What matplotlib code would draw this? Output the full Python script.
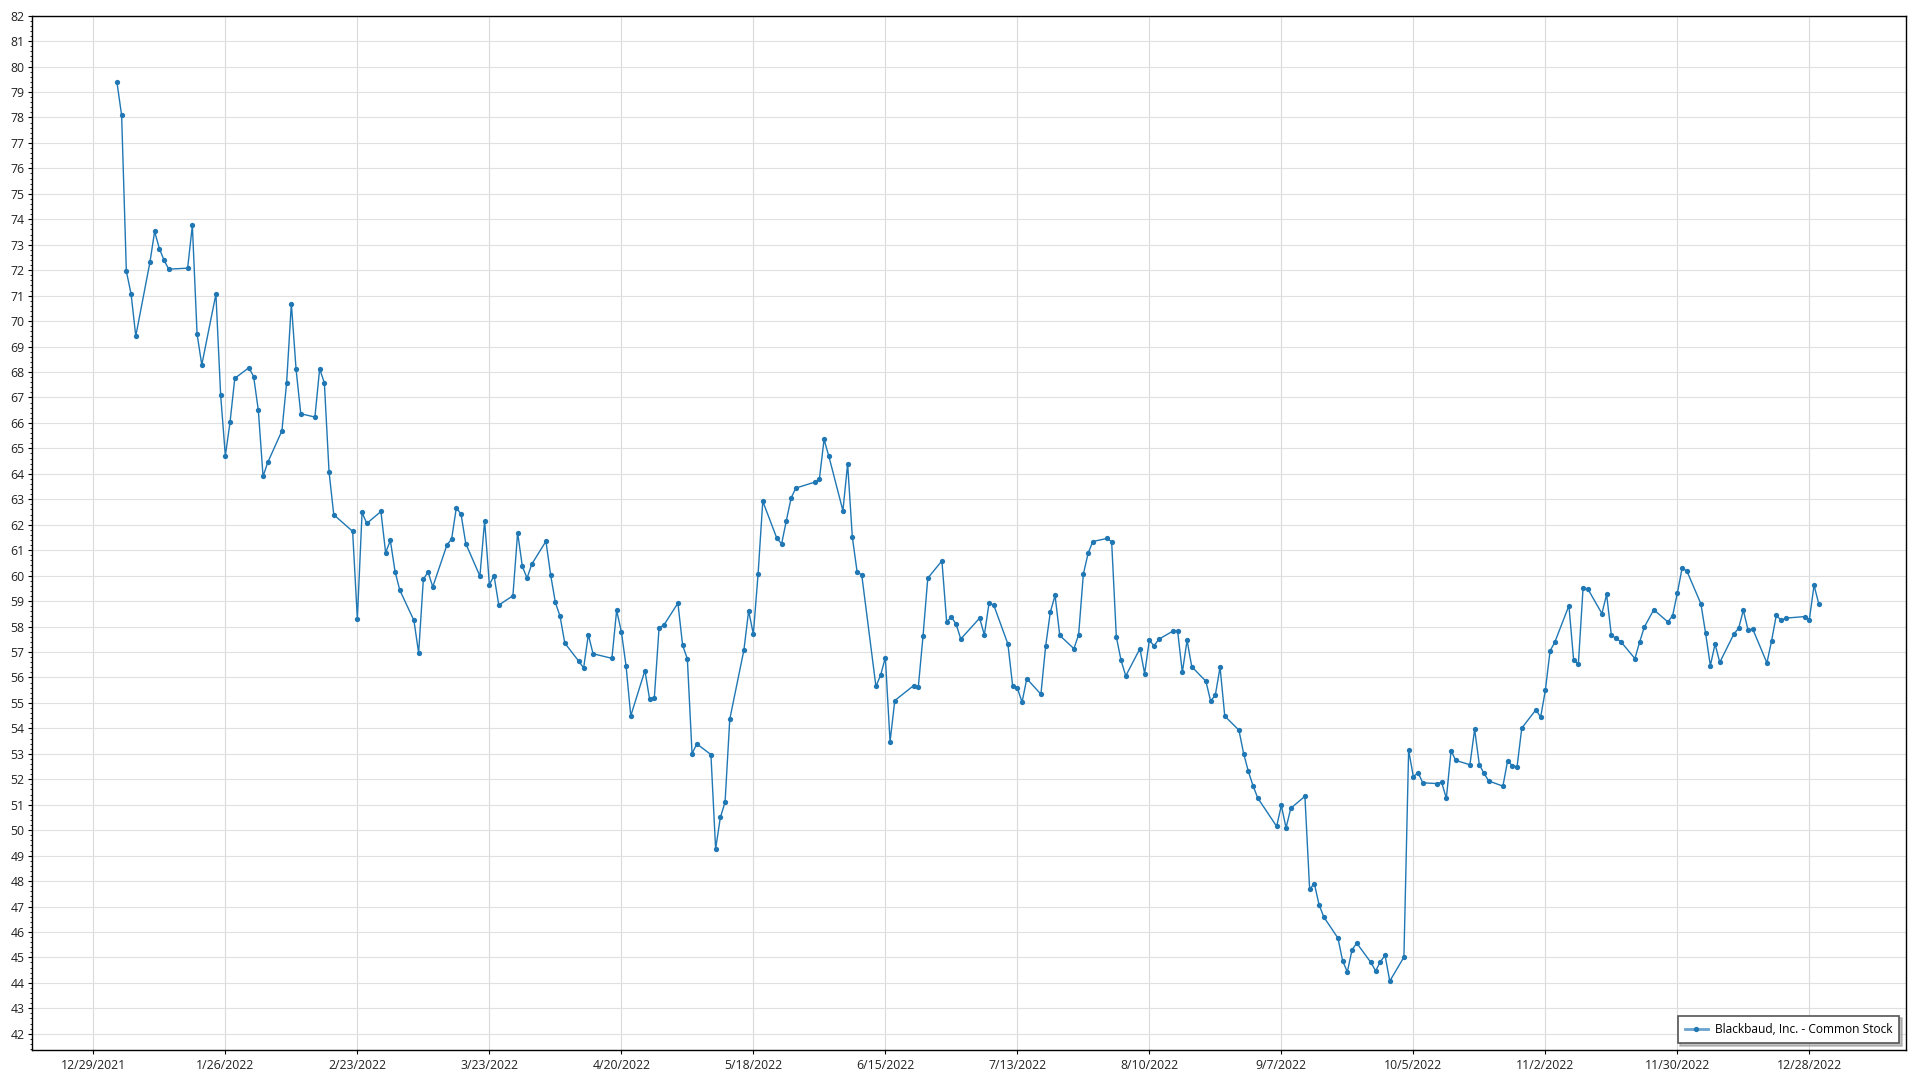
import matplotlib
matplotlib.use("Agg")
import matplotlib.pyplot as plt
import matplotlib.ticker as mticker
import pandas as pd

plt.rcParams['font.family'] = ['Open Sans', 'DejaVu Sans']

series_name = "Blackbaud, Inc. - Common Stock"

dates = [
    "2022-01-03", "2022-01-04", "2022-01-05", "2022-01-06", "2022-01-07",
    "2022-01-10", "2022-01-11", "2022-01-12", "2022-01-13", "2022-01-14",
    "2022-01-18", "2022-01-19", "2022-01-20", "2022-01-21",
    "2022-01-24", "2022-01-25", "2022-01-26", "2022-01-27", "2022-01-28",
    "2022-01-31", "2022-02-01", "2022-02-02", "2022-02-03", "2022-02-04",
    "2022-02-07", "2022-02-08", "2022-02-09", "2022-02-10", "2022-02-11",
    "2022-02-14", "2022-02-15", "2022-02-16", "2022-02-17", "2022-02-18",
    "2022-02-22", "2022-02-23", "2022-02-24", "2022-02-25",
    "2022-02-28", "2022-03-01", "2022-03-02", "2022-03-03", "2022-03-04",
    "2022-03-07", "2022-03-08", "2022-03-09", "2022-03-10", "2022-03-11",
    "2022-03-14", "2022-03-15", "2022-03-16", "2022-03-17", "2022-03-18",
    "2022-03-21", "2022-03-22", "2022-03-23", "2022-03-24", "2022-03-25",
    "2022-03-28", "2022-03-29", "2022-03-30", "2022-03-31", "2022-04-01",
    "2022-04-04", "2022-04-05", "2022-04-06", "2022-04-07", "2022-04-08",
    "2022-04-11", "2022-04-12", "2022-04-13", "2022-04-14",
    "2022-04-18", "2022-04-19", "2022-04-20", "2022-04-21", "2022-04-22",
    "2022-04-25", "2022-04-26", "2022-04-27", "2022-04-28", "2022-04-29",
    "2022-05-02", "2022-05-03", "2022-05-04", "2022-05-05", "2022-05-06",
    "2022-05-09", "2022-05-10", "2022-05-11", "2022-05-12", "2022-05-13",
    "2022-05-16", "2022-05-17", "2022-05-18", "2022-05-19", "2022-05-20",
    "2022-05-23", "2022-05-24", "2022-05-25", "2022-05-26", "2022-05-27",
    "2022-05-31", "2022-06-01", "2022-06-02", "2022-06-03",
    "2022-06-06", "2022-06-07", "2022-06-08", "2022-06-09", "2022-06-10",
    "2022-06-13", "2022-06-14", "2022-06-15", "2022-06-16", "2022-06-17",
    "2022-06-21", "2022-06-22", "2022-06-23", "2022-06-24",
    "2022-06-27", "2022-06-28", "2022-06-29", "2022-06-30", "2022-07-01",
    "2022-07-05", "2022-07-06", "2022-07-07", "2022-07-08",
    "2022-07-11", "2022-07-12", "2022-07-13", "2022-07-14", "2022-07-15",
    "2022-07-18", "2022-07-19", "2022-07-20", "2022-07-21", "2022-07-22",
    "2022-07-25", "2022-07-26", "2022-07-27", "2022-07-28", "2022-07-29",
    "2022-08-01", "2022-08-02", "2022-08-03", "2022-08-04", "2022-08-05",
    "2022-08-08", "2022-08-09", "2022-08-10", "2022-08-11", "2022-08-12",
    "2022-08-15", "2022-08-16", "2022-08-17", "2022-08-18", "2022-08-19",
    "2022-08-22", "2022-08-23", "2022-08-24", "2022-08-25", "2022-08-26",
    "2022-08-29", "2022-08-30", "2022-08-31", "2022-09-01", "2022-09-02",
    "2022-09-06", "2022-09-07", "2022-09-08", "2022-09-09",
    "2022-09-12", "2022-09-13", "2022-09-14", "2022-09-15", "2022-09-16",
    "2022-09-19", "2022-09-20", "2022-09-21", "2022-09-22", "2022-09-23",
    "2022-09-26", "2022-09-27", "2022-09-28", "2022-09-29", "2022-09-30",
    "2022-10-03", "2022-10-04", "2022-10-05", "2022-10-06", "2022-10-07",
    "2022-10-10", "2022-10-11", "2022-10-12", "2022-10-13", "2022-10-14",
    "2022-10-17", "2022-10-18", "2022-10-19", "2022-10-20", "2022-10-21",
    "2022-10-24", "2022-10-25", "2022-10-26", "2022-10-27", "2022-10-28",
    "2022-10-31", "2022-11-01", "2022-11-02", "2022-11-03", "2022-11-04",
    "2022-11-07", "2022-11-08", "2022-11-09", "2022-11-10", "2022-11-11",
    "2022-11-14", "2022-11-15", "2022-11-16", "2022-11-17", "2022-11-18",
    "2022-11-21", "2022-11-22", "2022-11-23", "2022-11-25",
    "2022-11-28", "2022-11-29", "2022-11-30", "2022-12-01", "2022-12-02",
    "2022-12-05", "2022-12-06", "2022-12-07", "2022-12-08", "2022-12-09",
    "2022-12-12", "2022-12-13", "2022-12-14", "2022-12-15", "2022-12-16",
    "2022-12-19", "2022-12-20", "2022-12-21", "2022-12-22", "2022-12-23",
    "2022-12-27", "2022-12-28", "2022-12-29", "2022-12-30",
]

prices = [
    79.39, 78.08, 71.96, 71.07, 69.41,
    72.31, 73.52, 72.85, 72.39, 72.04,
    72.08, 73.76, 69.50, 68.28,
    71.06, 67.10, 64.71, 66.04, 67.75,
    68.17, 67.82, 66.49, 63.90, 64.45,
    65.69, 67.58, 70.69, 68.11, 66.36,
    66.23, 68.12, 67.58, 64.07, 62.39,
    61.74, 58.30, 62.48, 62.05,
    62.52, 60.90, 61.38, 60.16, 59.43,
    58.24, 56.96, 59.86, 60.14, 59.56,
    61.20, 61.44, 62.67, 62.41, 61.26,
    59.98, 62.16, 59.65, 59.99, 58.84,
    59.21, 61.69, 60.36, 59.90, 60.45,
    61.35, 60.03, 58.95, 58.40, 57.35,
    56.63, 56.37, 57.68, 56.93,
    56.75, 58.63, 57.80, 56.45, 54.49,
    56.27, 55.14, 55.21, 57.95, 58.05,
    58.92, 57.26, 56.73, 53.00, 53.39,
    52.97, 49.26, 50.50, 51.10, 54.36,
    57.08, 58.62, 57.70, 60.05, 62.92,
    61.46, 61.25, 62.16, 63.04, 63.44,
    63.67, 63.78, 65.35, 64.70,
    62.55, 64.39, 61.51, 60.16, 60.02,
    55.65, 56.09, 56.78, 53.47, 55.09,
    55.68, 55.64, 57.64, 59.90,
    60.58, 58.19, 58.37, 58.10, 57.51,
    58.33, 57.67, 58.92, 58.84,
    57.31, 55.68, 55.58, 55.03, 55.95,
    55.34, 57.22, 58.57, 59.22, 57.65,
    57.13, 57.68, 60.06, 60.87, 61.34,
    61.46, 61.34, 57.59, 56.67, 56.06,
    57.13, 56.15, 57.46, 57.24, 57.50,
    57.82, 57.82, 56.20, 57.46, 56.42,
    55.85, 55.07, 55.31, 56.40, 54.48,
    53.93, 53.01, 52.31, 51.74, 51.26,
    50.15, 50.97, 50.09, 50.86,
    51.33, 47.68, 47.90, 47.07, 46.59,
    45.76, 44.87, 44.43, 45.30, 45.56,
    44.80, 44.47, 44.83, 45.08, 44.07,
    45.01, 53.14, 52.10, 52.26, 51.86,
    51.83, 51.88, 51.25, 53.12, 52.74,
    52.57, 53.96, 52.57, 52.23, 51.93,
    51.73, 52.73, 52.53, 52.49, 54.01,
    54.73, 54.44, 55.49, 57.04, 57.38,
    58.82, 56.68, 56.52, 59.51, 59.48,
    58.51, 59.26, 57.66, 57.53, 57.41,
    56.74, 57.39, 57.98, 58.66,
    58.18, 58.43, 59.31, 60.29, 60.19,
    58.89, 57.73, 56.46, 57.31, 56.59,
    57.71, 57.93, 58.64, 57.86, 57.90,
    56.57, 57.45, 58.45, 58.24, 58.33,
    58.39, 58.27, 59.62, 58.89,
]

x_tick_dates = ["2021-12-29", "2022-01-26", "2022-02-23", "2022-03-23", "2022-04-20",
                "2022-05-18", "2022-06-15", "2022-07-13", "2022-08-10", "2022-09-07",
                "2022-10-05", "2022-11-02", "2022-11-30", "2022-12-28"]
x_tick_labels = ["12/29/2021", "1/26/2022", "2/23/2022", "3/23/2022", "4/20/2022",
                 "5/18/2022", "6/15/2022", "7/13/2022", "8/10/2022", "9/7/2022",
                 "10/5/2022", "11/2/2022", "11/30/2022", "12/28/2022"]
y_ticks = list(range(42, 83))

x = pd.to_datetime(dates)
tick_x = pd.to_datetime(x_tick_dates)

fig = plt.figure(figsize=(19.2, 10.8), dpi=100)
ax = fig.add_axes([0.0167, 0.0282, 0.976, 0.9573])

color = '#1f77b4'
ax.plot(x, prices, color=color, linewidth=1.0, marker='o', markersize=3.8,
        markeredgewidth=0, label=series_name, zorder=3)

ax.set_xlim(pd.Timestamp("2021-12-16"), pd.Timestamp("2023-01-17 12:00"))
ax.set_ylim(41.38, 82)

ax.set_xticks(tick_x)
ax.set_xticklabels(x_tick_labels)
ax.set_yticks(y_ticks)
ax.set_yticklabels([str(v) for v in y_ticks])
ax.yaxis.set_minor_locator(mticker.MultipleLocator(0.2))

ax.tick_params(axis='both', which='major', labelsize=8.8, colors='#000000',
               length=3, width=0.8, pad=2.5, labelcolor='#222222')
ax.tick_params(axis='y', which='minor', length=1.5, width=0.6)
ax.tick_params(axis='x', which='major', pad=3.5)

ax.grid(True, axis='y', which='major', color='#e0e0e0', linewidth=0.8, zorder=0)
ax.grid(True, axis='x', which='major', color='#dadada', linewidth=0.8, zorder=0)
ax.set_axisbelow(True)

for side in ['left', 'bottom', 'top', 'right']:
    ax.spines[side].set_color('#000000')
    ax.spines[side].set_linewidth(1.0)

leg = ax.legend(loc='lower right', fontsize=8.6, frameon=True, fancybox=False,
                shadow={'color': '#999999', 'alpha': 0.6}, borderpad=0.6,
                handlelength=1.9, handletextpad=0.6, borderaxespad=0.55)
leg.get_frame().set_edgecolor('#555555')
leg.get_frame().set_linewidth(1.2)
for h in leg.get_lines():
    h.set_color('#6aa3cf')
    h.set_markerfacecolor(color)
    h.set_linewidth(2)

fig.savefig("out.png", dpi=100, facecolor='white')
